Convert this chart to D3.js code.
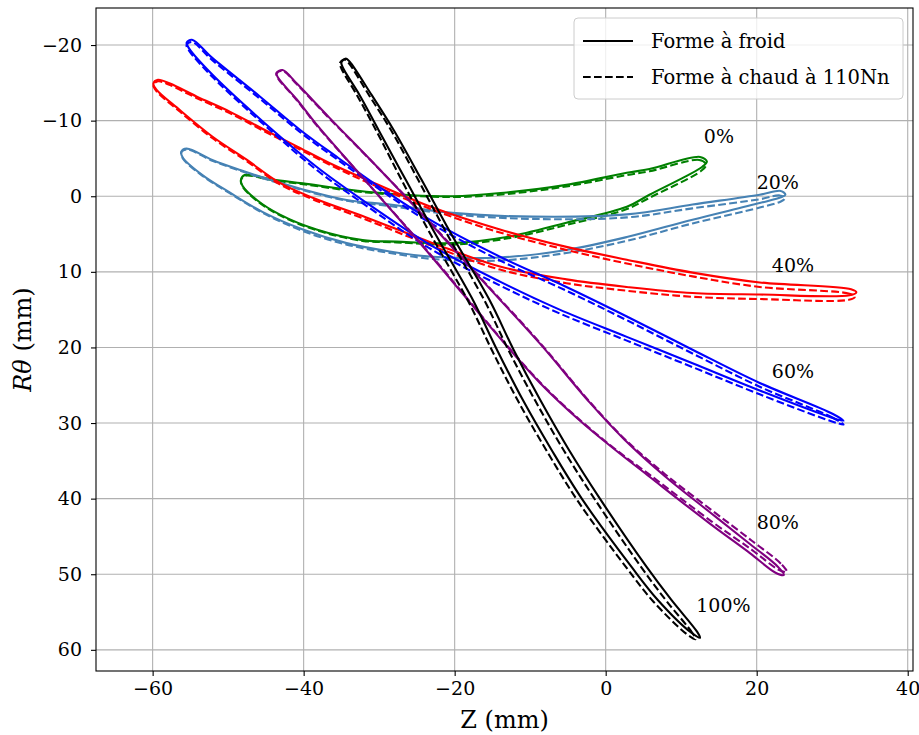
<!DOCTYPE html>
<html><head><meta charset="utf-8">
<script src="https://cdn.jsdelivr.net/npm/d3@7"></script>
<style>body{margin:0;background:#fff}svg{display:block}text{font-family:"DejaVu Serif",serif}</style>
</head><body>
<script>
// ---- data (Z mm, Rθ mm) ----
const sections = ["0%","20%","40%","60%","80%","100%"];
const colors = ["green","steelblue","red","blue","purple","black"];
const xTicks = [-60,-40,-20,0,20,40];
const yTicks = [-20,-10,0,10,20,30,40,50,60];
const labelZ = [13,20,22,22,20,12];
const labelR = [-7,-1,10,24,44,55];

const cold0 = [[13.4,-4.6],[12.5,-5.2],[5.8,-3.6],[2.8,-3.1],[-5.2,-1.5],[-13.1,-0.5],[-20.3,0.0],[-31.7,-0.6],[-40.1,-1.7],[-44.1,-2.2],[-47.8,-2.8],[-48.3,-2.2],[-48.1,-1.4],[-46.2,0.5],[-43.2,2.4],[-38.3,4.4],[-32.2,5.8],[-27.7,6.0],[-20.3,6.2],[-13.1,5.4],[-5.2,3.5],[2.8,1.4],[5.8,-0.2],[12.8,-3.9]];
const hot0 = [[13.3,-4.2],[12.4,-4.8],[5.8,-3.3],[2.8,-2.8],[-5.2,-1.3],[-13.1,-0.3],[-20.3,0.1],[-31.7,-0.5],[-40.1,-1.6],[-44.1,-2.1],[-47.8,-2.7],[-48.3,-2.1],[-48.1,-1.3],[-46.2,0.6],[-43.2,2.5],[-38.3,4.5],[-32.2,5.9],[-27.7,6.1],[-20.3,6.4],[-13.1,5.6],[-5.2,3.8],[2.8,1.7],[5.8,0.2],[12.7,-3.4]];

const cold20 = [[23.8,-0.2],[23.2,-0.7],[20.4,-0.2],[11.5,1.1],[2.8,2.4],[-9.7,2.7],[-20.3,2.2],[-28.6,1.1],[-34.3,0.5],[-40.1,-0.9],[-44.5,-2.2],[-48.5,-3.5],[-52.1,-4.8],[-55.5,-6.3],[-56.2,-5.9],[-56.0,-5.1],[-53.4,-2.8],[-49.8,-0.5],[-45.4,2.1],[-40.1,4.4],[-34.3,6.2],[-28.6,7.3],[-22.9,8.0],[-14.0,8.1],[-5.2,7.1],[2.8,5.4],[11.5,3.1],[20.4,0.9],[23.3,0.1]];
const hot20 = [[23.7,0.3],[23.1,-0.1],[20.4,0.4],[11.5,1.6],[2.8,2.8],[-9.7,3.0],[-20.3,2.4],[-28.6,1.3],[-34.3,0.6],[-40.1,-0.8],[-44.5,-2.1],[-48.5,-3.4],[-52.1,-4.7],[-55.5,-6.2],[-56.2,-5.8],[-56.0,-5.0],[-53.4,-2.7],[-49.8,-0.4],[-45.4,2.2],[-40.1,4.6],[-34.3,6.4],[-28.6,7.5],[-22.9,8.3],[-14.0,8.5],[-5.2,7.5],[2.8,5.9],[11.5,3.6],[20.4,1.5],[23.2,0.7]];

const cold40 = [[33.2,12.7],[32.5,12.3],[20.4,11.4],[11.5,10.1],[2.8,8.4],[-5.2,6.7],[-14.0,4.4],[-22.9,1.5],[-31.7,-2.2],[-36.6,-4.4],[-40.9,-6.6],[-45.4,-8.9],[-49.8,-11.2],[-54.2,-13.2],[-57.7,-14.9],[-59.3,-15.4],[-59.9,-14.9],[-59.5,-14.1],[-56.4,-11.4],[-52.1,-7.9],[-47.5,-4.8],[-43.2,-1.8],[-38.8,0.2],[-31.7,2.8],[-22.9,6.2],[-14.0,9.3],[-5.2,11.0],[2.8,12.0],[11.5,12.8],[20.4,13.0],[32.3,13.1]];
const hot40 = [[33.0,13.3],[32.3,12.9],[20.4,12.0],[11.5,10.6],[2.8,8.9],[-5.2,7.1],[-14.0,4.8],[-22.9,1.8],[-31.7,-1.9],[-36.6,-4.2],[-40.9,-6.4],[-45.4,-8.7],[-49.8,-11.0],[-54.2,-13.0],[-57.7,-14.7],[-59.3,-15.2],[-59.9,-14.7],[-59.5,-13.9],[-56.4,-11.2],[-52.1,-7.7],[-47.5,-4.6],[-43.2,-1.6],[-38.8,0.4],[-31.7,3.1],[-22.9,6.6],[-14.0,9.7],[-5.2,11.5],[2.8,12.5],[11.5,13.3],[20.4,13.6],[32.2,13.7]];

const cold60 = [[31.5,29.7],[30.1,28.8],[20.4,24.7],[11.5,20.3],[2.8,15.9],[-5.2,12.0],[-14.0,8.0],[-23.3,3.1],[-29.5,-0.9],[-35.6,-5.2],[-40.5,-8.8],[-45.8,-13.2],[-52.1,-18.3],[-54.8,-20.7],[-55.5,-20.3],[-55.2,-19.6],[-52.1,-16.1],[-44.5,-9.1],[-38.3,-3.9],[-32.2,0.5],[-23.3,6.4],[-14.0,11.3],[-6.1,15.0],[2.8,18.6],[11.5,22.1],[20.4,25.7],[29.7,29.2]];
const hot60 = [[31.5,30.2],[30.1,29.3],[20.4,25.2],[11.5,20.8],[2.8,16.4],[-5.2,12.5],[-14.0,8.5],[-23.3,3.5],[-29.5,-0.6],[-35.6,-4.9],[-40.5,-8.5],[-45.8,-12.9],[-52.1,-18.0],[-54.8,-20.4],[-55.5,-20.0],[-55.2,-19.3],[-52.1,-15.8],[-44.5,-8.8],[-38.3,-3.5],[-32.2,0.9],[-23.3,6.9],[-14.0,11.8],[-6.1,15.5],[2.8,19.1],[11.5,22.6],[20.4,26.2],[29.7,29.7]];

const cold80 = [[23.6,50.1],[22.8,49.0],[19.1,46.0],[13.8,41.8],[7.8,37.0],[2.5,32.2],[-2.1,27.3],[-8.7,19.5],[-16.3,11.2],[-23.3,3.5],[-29.9,-3.5],[-36.6,-10.4],[-40.9,-14.9],[-42.8,-16.7],[-43.6,-16.3],[-43.4,-15.7],[-40.9,-12.8],[-38.3,-9.5],[-32.2,-2.5],[-23.3,7.7],[-14.4,18.3],[-8.7,24.7],[-3.4,29.7],[1.2,33.5],[5.8,37.1],[13.8,43.3],[19.1,47.2],[22.5,49.8]];
const hot80 = [[24.0,49.7],[23.2,48.6],[19.4,45.6],[14.0,41.5],[7.9,36.8],[2.5,32.1],[-2.1,27.2],[-8.7,19.4],[-16.3,11.1],[-23.3,3.4],[-29.9,-3.5],[-36.6,-10.3],[-40.9,-14.8],[-42.8,-16.6],[-43.6,-16.2],[-43.4,-15.6],[-40.9,-12.7],[-38.3,-9.4],[-32.2,-2.5],[-23.3,7.6],[-14.4,18.2],[-8.7,24.6],[-3.4,29.6],[1.2,33.4],[5.9,36.9],[14.0,43.0],[19.4,46.8],[22.9,49.4]];

const cold100 = [[12.5,58.4],[12.1,57.6],[8.7,53.4],[5.4,49.0],[-0.7,40.1],[-4.9,33.5],[-8.7,26.9],[-12.2,20.3],[-15.4,13.7],[-20.4,5.1],[-24.4,-2.2],[-28.1,-8.8],[-31.0,-13.4],[-33.9,-17.8],[-34.4,-18.2],[-35.0,-17.7],[-34.8,-17.0],[-32.6,-13.4],[-30.1,-8.8],[-26.5,-2.2],[-22.5,5.1],[-17.6,13.7],[-14.4,20.3],[-11.0,26.9],[-7.2,33.5],[-3.1,40.1],[3.4,49.0],[6.9,53.4],[11.3,57.7]];
const hot100 = [[11.9,58.6],[11.5,57.8],[8.1,53.6],[4.8,49.2],[-1.3,40.3],[-5.5,33.7],[-9.3,27.1],[-12.8,20.5],[-16.0,13.9],[-20.9,5.2],[-24.8,-2.1],[-28.4,-8.7],[-31.3,-13.3],[-34.1,-17.7],[-34.6,-18.1],[-35.2,-17.6],[-35.0,-16.9],[-32.9,-13.3],[-30.4,-8.7],[-27.0,-2.1],[-23.1,5.2],[-18.2,13.9],[-15.0,20.5],[-11.6,27.1],[-7.8,33.7],[-3.7,40.3],[2.8,49.2],[6.3,53.6],[10.7,57.9]];

const coldShapes = [cold0,cold20,cold40,cold60,cold80,cold100];
const hotShapes = [hot0,hot20,hot40,hot60,hot80,hot100];
const legendLabels = ["Forme à froid","Forme à chaud à 110Nn"];

// ---- drawing ----
const W = 919, H = 735;
const M = {left:96, right:913, top:8, bottom:671};
const x = d3.scaleLinear().domain([-67.5,40.7]).range([M.left,M.right]);
const y = d3.scaleLinear().domain([-24.9,62.8]).range([M.top,M.bottom]);

const svg = d3.select("body").append("svg").attr("width",W).attr("height",H);

// grid
const g = svg.append("g");
g.selectAll(".gx").data(xTicks).join("line")
  .attr("x1",d=>x(d)).attr("x2",d=>x(d)).attr("y1",M.top).attr("y2",M.bottom)
  .attr("stroke","#b0b0b0").attr("stroke-width",1.1);
g.selectAll(".gy").data(yTicks).join("line")
  .attr("y1",d=>y(d)).attr("y2",d=>y(d)).attr("x1",M.left).attr("x2",M.right)
  .attr("stroke","#b0b0b0").attr("stroke-width",1.1);

// profiles
const line = d3.line().x(d=>x(d[0])).y(d=>y(d[1])).curve(d3.curveCatmullRomClosed.alpha(0.5));
const plot = svg.append("g");
coldShapes.forEach((c,i)=>{
  plot.append("path").attr("d",line(c)).attr("fill","none").attr("stroke",colors[i]).attr("stroke-width",2.1).attr("stroke-linejoin","round");
  plot.append("path").attr("d",line(hotShapes[i])).attr("fill","none").attr("stroke",colors[i]).attr("stroke-width",2.1).attr("stroke-dasharray","7.7,3.3");
});

// section labels
svg.selectAll(".lab").data(sections).join("text")
  .attr("x",(d,i)=>x(labelZ[i])).attr("y",(d,i)=>y(labelR[i]))
  .attr("font-size",19).attr("fill","#000").text(d=>d);

// axes
const fmt = d=>d<0?"\u2212"+Math.abs(d):d;
const xAxis = d3.axisBottom(x).tickValues(xTicks).tickSize(5).tickPadding(6).tickFormat(fmt);
const yAxis = d3.axisLeft(y).tickValues(yTicks).tickSize(5).tickPadding(9).tickFormat(fmt);
const gx = svg.append("g").attr("transform",`translate(0,${M.bottom})`).call(xAxis);
const gy = svg.append("g").attr("transform",`translate(${M.left},0)`).call(yAxis);
[gx,gy].forEach(a=>{a.select(".domain").remove();a.selectAll("text").attr("font-family","DejaVu Serif").attr("font-size",19).attr("fill","#000");a.selectAll("line").attr("stroke","#000").attr("stroke-width",1.1);});
svg.append("rect").attr("x",M.left).attr("y",M.top).attr("width",M.right-M.left).attr("height",M.bottom-M.top)
  .attr("fill","none").attr("stroke","#000").attr("stroke-width",1.1);

// axis labels
svg.append("text").attr("x",(M.left+M.right)/2).attr("y",728).attr("text-anchor","middle").attr("font-size",24).text("Z (mm)");
const yl = svg.append("text").attr("transform",`translate(31,${(M.top+M.bottom)/2}) rotate(-90)`).attr("text-anchor","middle").attr("font-size",24);
yl.append("tspan").attr("font-style","italic").text("Rθ");
yl.append("tspan").text(" (mm)");

// legend
const lg = svg.append("g").attr("transform","translate(574,18)");
lg.append("rect").attr("width",329).attr("height",81).attr("rx",4).attr("fill","#fff").attr("fill-opacity",0.8).attr("stroke","#cccccc");
legendLabels.forEach((t,i)=>{
  const yy = 23 + i*36;
  lg.append("line").attr("x1",9).attr("x2",59).attr("y1",yy).attr("y2",yy).attr("stroke","#000").attr("stroke-width",2.1)
    .attr("stroke-dasharray", i===1 ? "7.7,3.3" : null);
  lg.append("text").attr("x",77).attr("y",yy+7).attr("font-size",19.5).text(t);
});
</script>
</body></html>
